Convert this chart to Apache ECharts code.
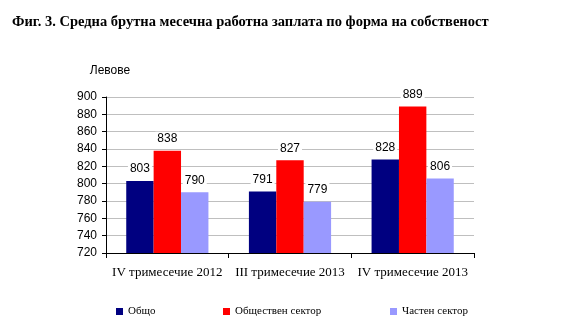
<!DOCTYPE html>
<html><head><meta charset="utf-8">
<script src="https://cdn.jsdelivr.net/npm/echarts@6/dist/echarts.min.js"></script>
<style>html,body{margin:0;padding:0;background:#fff}#c{width:579px;height:334px}</style>
</head><body><div id="c"></div>
<script>
const categories = ['IV тримесечие 2012', 'III тримесечие 2013', 'IV тримесечие 2013'];
const seriesNames = ['Общо', 'Обществен сектор', 'Частен сектор'];
const total = [803, 791, 828];
const publicSector = [838, 827, 889];
const privateSector = [790, 779, 806];
const yTicks = [720, 740, 760, 780, 800, 820, 840, 860, 880, 900];
const colors = ['#000080', '#FF0000', '#9999FF'];
const legendX = [111, 218, 385];

const chart = echarts.init(document.getElementById('c'), null, {renderer: 'canvas'});
const serif = '"Liberation Serif", "Times New Roman", serif';
const sans = '"Liberation Sans", Arial, sans-serif';
const allData = [total, publicSector, privateSector];

chart.setOption({
  animation: false,
  title: {
    text: 'Фиг. 3. Средна брутна месечна работна заплата по форма на собственост',
    left: 12, top: 15, padding: 0,
    textStyle: {fontFamily: serif, fontWeight: 'bold', fontSize: 14.5, color: '#000'}
  },
  legend: seriesNames.map((n, i) => ({
    data: [n], left: legendX[i], top: 301, icon: 'rect', itemWidth: 7, itemHeight: 7,
    textStyle: {fontFamily: serif, fontSize: 11, color: '#000'}
  })),
  grid: {left: 106, right: 105, top: 97, bottom: 81},
  xAxis: {
    type: 'category', data: categories,
    axisLine: {lineStyle: {color: '#000'}},
    axisTick: {show: true, length: 5, lineStyle: {color: '#000'}},
    axisLabel: {fontFamily: serif, fontSize: 13, color: '#000', margin: 13, interval: 0}
  },
  yAxis: {
    type: 'value', min: yTicks[0], max: yTicks[yTicks.length - 1], interval: 20,
    name: 'Левове', nameLocation: 'end', nameGap: 20,
    nameTextStyle: {fontFamily: sans, fontSize: 12, color: '#000', align: 'center', padding: [0, 0, 0, 8]},
    axisLine: {show: true, lineStyle: {color: '#000'}},
    axisTick: {show: true, length: 4, lineStyle: {color: '#000'}},
    axisLabel: {fontFamily: sans, fontSize: 12, color: '#000', margin: 9},
    splitLine: {lineStyle: {color: '#BFBFBF'}}
  },
  series: seriesNames.map((n, i) => ({
    name: n, type: 'bar', data: allData[i],
    barGap: '0%', barCategoryGap: '33%',
    itemStyle: {color: colors[i]},
    label: {show: true, position: 'top', distance: 5, fontFamily: sans, fontSize: 12, color: '#000',
      backgroundColor: '#fff', padding: [1, 2]}
  }))
});
</script></body></html>
